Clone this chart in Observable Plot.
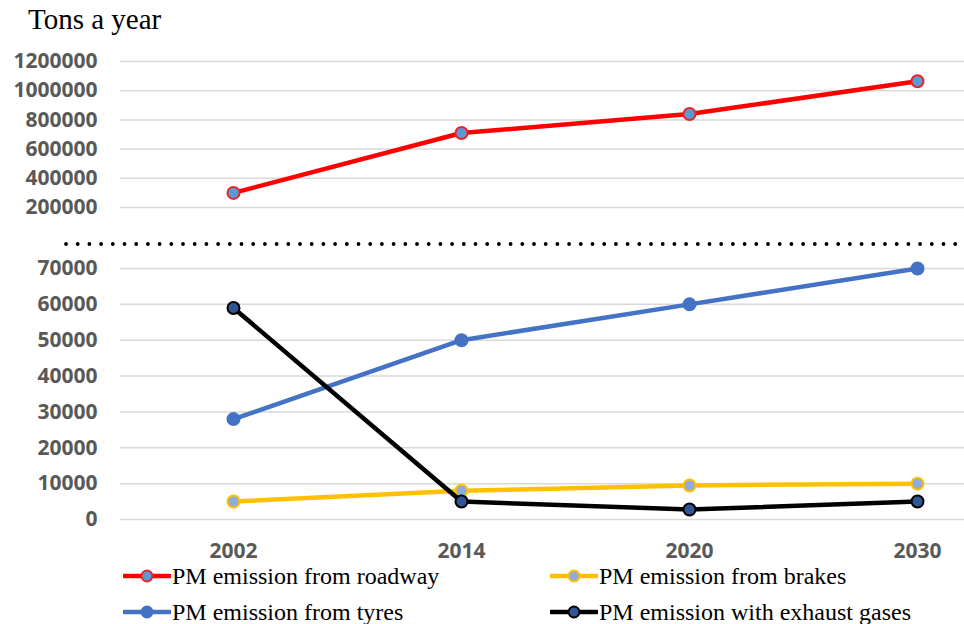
<!DOCTYPE html>
<html>
<head>
<meta charset="utf-8">
<script src="https://cdn.jsdelivr.net/npm/d3@7"></script>
<script src="https://cdn.jsdelivr.net/npm/@observablehq/plot@0.6"></script>
<style>
  body { margin: 0; background: #fff; }
  #chart { position: relative; width: 964px; height: 624px; overflow: hidden; background: #fff; }
  #title { position: absolute; left: 28px; top: 3px; font-family: "Liberation Serif", serif; font-size: 29px; color: #000; }
  .panel { position: absolute; left: 0; }
  .legend-item { position: absolute; display: flex; align-items: center; font-family: "Liberation Serif", serif; font-size: 24px; color: #000; height: 30px; }
  .legend-item svg { margin-right: 1px; }
  svg text { font-family: "Open Sans", sans-serif; }
</style>
</head>
<body>
<div id="chart">
  <div id="title">Tons a year</div>
</div>
<script>
const years = ["2002", "2014", "2020", "2030"];
const roadway = [300000, 710000, 840000, 1065000];
const tyres = [28000, 50000, 60000, 70000];
const brakes = [5000, 8000, 9500, 10000];
const exhaust = [59000, 5000, 2800, 5000];
const topTicks = [200000, 400000, 600000, 800000, 1000000, 1200000];
const bottomTicks = [0, 10000, 20000, 30000, 40000, 50000, 60000, 70000];

const seriesNames = ["PM emission from roadway", "PM emission from brakes", "PM emission from tyres", "PM emission with exhaust gases"];
const lineColors = ["#ff0000", "#ffc000", "#4472c4", "#000000"];
const markerFills = ["#5b9bd5", "#8faadc", "#4472c4", "#2f5597"];
const markerStrokes = ["#e8262a", "#ffc000", "#4472c4", "#000000"];

const toRows = (vals) => years.map((y, i) => ({year: y, value: vals[i]}));
const chart = document.getElementById("chart");
const grey = "#595959";
const xScale = {type: "point", domain: years, range: [232, 917], padding: 0};

function seriesMarks(vals, k) {
  const rows = toRows(vals);
  return [
    Plot.line(rows, {x: "year", y: "value", stroke: lineColors[k], strokeWidth: 4.5, strokeLinejoin: "round", strokeLinecap: "round"}),
    Plot.dot(rows, {x: "year", y: "value", r: 6, fill: markerFills[k], stroke: markerStrokes[k], strokeWidth: 2})
  ];
}

// Top panel (roadway)
const topPlot = Plot.plot({
  width: 964, height: 190,
  marginLeft: 120, marginRight: 0, marginTop: 21, marginBottom: 23,
  x: {...xScale, axis: null},
  y: {domain: [200000, 1200000], ticks: topTicks},
  marks: [
    Plot.gridY(topTicks, {stroke: "#d9d9d9", strokeOpacity: 1, strokeWidth: 1.5}),
    Plot.axisY(topTicks, {tickSize: 0, tickPadding: 23, tickFormat: d => String(d), fontSize: 21, fontWeight: "bold", fill: grey, label: null}),
    ...seriesMarks(roadway, 0)
  ]
});
topPlot.classList.add("panel");
topPlot.style.top = "40px";
chart.appendChild(topPlot);

// Break marker (dotted line)
const ns = "http://www.w3.org/2000/svg";
const brk = document.createElementNS(ns, "svg");
brk.setAttribute("width", 964); brk.setAttribute("height", 10);
brk.style.position = "absolute"; brk.style.left = "0px"; brk.style.top = "239px";
const ln = document.createElementNS(ns, "line");
ln.setAttribute("x1", 66); ln.setAttribute("x2", 964); ln.setAttribute("y1", 5); ln.setAttribute("y2", 5);
ln.setAttribute("stroke", "#000"); ln.setAttribute("stroke-width", 3.8);
ln.setAttribute("stroke-linecap", "round"); ln.setAttribute("stroke-dasharray", "0 11.7");
brk.appendChild(ln);
chart.appendChild(brk);

// Bottom panel
const bottomPlot = Plot.plot({
  width: 964, height: 320,
  marginLeft: 120, marginRight: 0, marginTop: 18, marginBottom: 51,
  x: {...xScale},
  y: {domain: [0, 70000], ticks: bottomTicks},
  marks: [
    Plot.gridY(bottomTicks, {stroke: "#d9d9d9", strokeOpacity: 1, strokeWidth: 1.5}),
    Plot.axisY(bottomTicks, {tickSize: 0, tickPadding: 23, tickFormat: d => String(d), fontSize: 21, fontWeight: "bold", fill: grey, label: null}),
    Plot.axisX({tickSize: 0, tickPadding: 24, fontSize: 21, fontWeight: "bold", fill: grey, label: null}),
    ...seriesMarks(tyres, 2),
    ...seriesMarks(brakes, 1),
    ...seriesMarks(exhaust, 3)
  ]
});
bottomPlot.classList.add("panel");
bottomPlot.style.top = "250px";
chart.appendChild(bottomPlot);

// Legend
const legendPos = [[123, 561], [550, 561], [123, 597], [550, 597]];
seriesNames.forEach((name, k) => {
  const item = document.createElement("div");
  item.className = "legend-item";
  item.style.left = legendPos[k][0] + "px";
  item.style.top = legendPos[k][1] + "px";
  item.innerHTML = `<svg width="48" height="16"><line x1="1" x2="47" y1="8" y2="8" stroke="${lineColors[k]}" stroke-width="4.5" stroke-linecap="round"/><circle cx="24" cy="8" r="5.5" fill="${markerFills[k]}" stroke="${markerStrokes[k]}" stroke-width="2"/></svg><span>${name}</span>`;
  chart.appendChild(item);
});
</script>
</body>
</html>
